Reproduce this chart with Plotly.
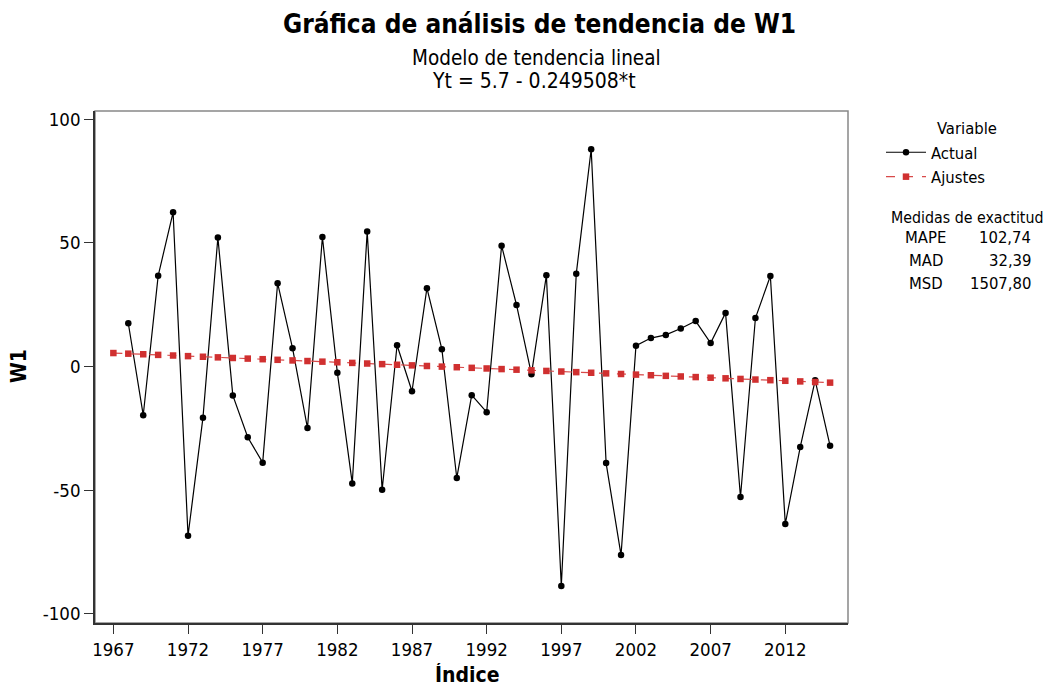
import plotly.graph_objects as go

# Años (índice) y valores de la serie W1
years = list(range(1967, 2016))
actual_years = list(range(1968, 2016))
actual = [17.5, -19.7, 36.7, 62.4, -68.5, -20.7, 52.2, -11.7, -28.6, -38.9,
          33.7, 7.4, -24.9, 52.4, -2.5, -47.3, 54.6, -49.9, 8.6, -10.0,
          31.7, 7.0, -45.1, -11.6, -18.5, 48.9, 24.9, -3.1, 36.9, -88.8,
          37.5, 87.9, -39.1, -76.3, 8.4, 11.5, 12.8, 15.4, 18.4, 9.5,
          21.7, -52.8, 19.6, 36.6, -63.7, -32.6, -5.6, -32.1]

# Ajustes de la tendencia lineal Yt = 5.7 - 0.249508*t (t = 1..49)
fits = [5.45, 5.20, 4.95, 4.70, 4.45, 4.20, 3.95, 3.70, 3.45, 3.20,
        2.96, 2.71, 2.46, 2.21, 1.96, 1.71, 1.46, 1.21, 0.96, 0.71,
        0.46, 0.21, -0.04, -0.29, -0.54, -0.79, -1.04, -1.29, -1.54, -1.79,
        -2.03, -2.28, -2.53, -2.78, -3.03, -3.28, -3.53, -3.78, -4.03, -4.28,
        -4.53, -4.78, -5.03, -5.28, -5.53, -5.78, -6.03, -6.28, -6.53]

x_ticks = [1967, 1972, 1977, 1982, 1987, 1992, 1997, 2002, 2007, 2012]
y_ticks = [-100, -50, 0, 50, 100]
y_ticktext = ["-100", "-50", "0", "50", "100"]

stat_names = ["MAPE", "MAD", "MSD"]
stat_values = ["102,74", "32,39", "1507,80"]

FONT = "DejaVu Sans Condensed, DejaVu Sans, sans-serif"
RED = "#d03030"

# tamaño de la figura y del área de trazado (px)
W, H = 1044, 679
L, T, R, B = 87, 103, 204, 64
PW, PH = W - L - R, H - T - B


def px_x(x):
    return (x - L) / PW


def px_y(y):
    return (H - B - y) / PH


fig = go.Figure()

fig.add_trace(go.Scatter(
    x=actual_years, y=actual, name="Actual", mode="lines+markers",
    line=dict(color="black", width=1.2),
    marker=dict(symbol="circle", size=6.5, color="black"),
))
fig.add_trace(go.Scatter(
    x=years, y=fits, name="Ajustes", mode="lines+markers",
    line=dict(color="#d84a4a", width=1.2, dash="dash"),
    marker=dict(symbol="square", size=6.5, color=RED),
))

fig.update_layout(
    width=W, height=H,
    margin=dict(l=L, r=R, t=T, b=B, autoexpand=False),
    paper_bgcolor="white", plot_bgcolor="white",
    font=dict(family=FONT, size=17, color="black"),
    showlegend=True,
    legend=dict(x=px_x(873), y=px_y(127), xanchor="left", yanchor="top",
                font=dict(size=16.5), itemwidth=40,
                bgcolor="rgba(0,0,0,0)"),
)

fig.update_xaxes(
    range=[1965.77, 2016.2], tickvals=x_ticks, ticks="outside", ticklen=9,
    tickcolor="#333", tickfont=dict(size=18.5), showgrid=False, zeroline=False,
    showline=True, linecolor="#333", linewidth=1.5, automargin=False,
)
fig.update_yaxes(
    range=[-103.8, 103.4], tickvals=y_ticks, ticktext=y_ticktext,
    ticks="outside", ticklen=9, tickcolor="#333", tickfont=dict(size=18.5),
    showgrid=False, zeroline=False, automargin=False,
    showline=True, linecolor="#333", linewidth=1.5,
)

# marco gris alrededor del área de trazado
fig.add_shape(type="rect", xref="paper", yref="paper", x0=0, y0=0, x1=1, y1=1,
              line=dict(color="#888", width=1.5), layer="below")


def label(text, x, y, size, xanchor="center", angle=0, **kw):
    fig.add_annotation(text=text, x=px_x(x), y=px_y(y), xref="paper", yref="paper",
                       xanchor=xanchor, yanchor=kw.pop("yanchor", "middle"),
                       showarrow=False, textangle=angle, font=dict(size=size), **kw)


# títulos
label("<b>Gráfica de análisis de tendencia de W1</b>", 531.5, 16, 26)
label("Modelo de tendencia lineal", 528, 49.5, 20.5)
label("Yt = 5.7 - 0.249508*t", 525.5, 73, 21)

# títulos de ejes
label("<b>Índice</b>", 459.5, H, 21, yanchor="bottom", height=22, valign="middle")
label("<b>W1</b>", 11, 358, 21, angle=-90)

# leyenda y medidas de exactitud
label("Variable", 958.5, 120, 16.5)
label("Medidas de exactitud", 959, 209, 15.8)
for i, (n, v) in enumerate(zip(stat_names, stat_values)):
    label(n, 918, 229.5 + i * 23, 16.5)
    label(v, 1025, 229.5 + i * 23, 16.5, xanchor="right")

fig.write_html("out.html")
